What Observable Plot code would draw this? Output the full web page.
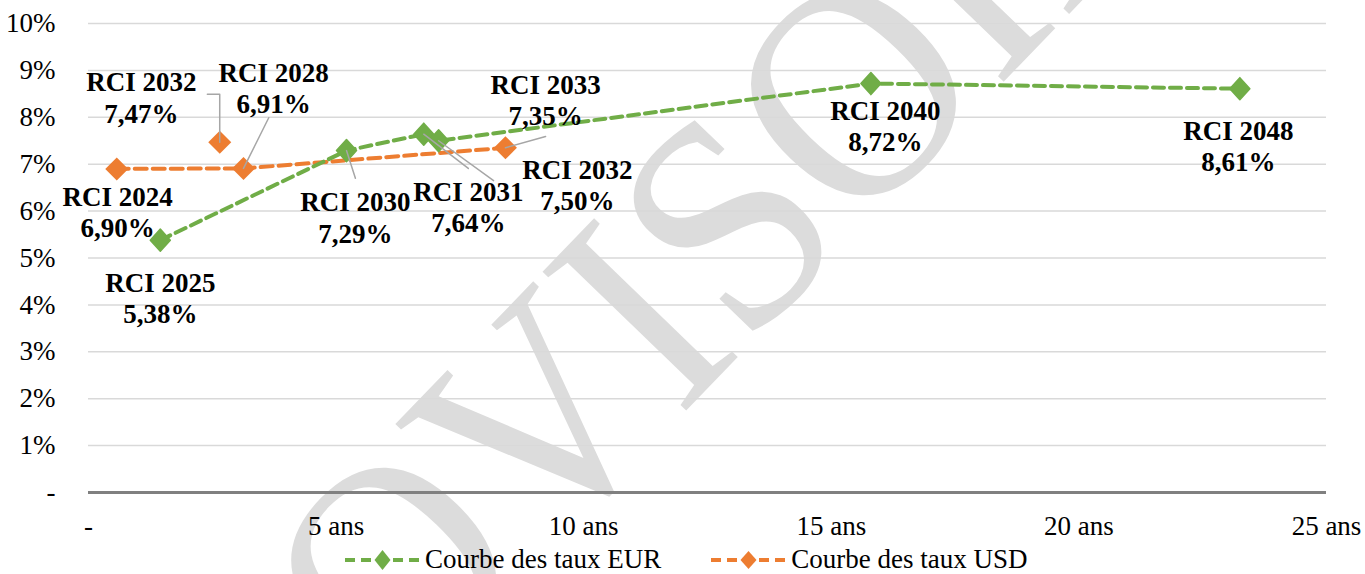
<!DOCTYPE html>
<html>
<head>
<meta charset="utf-8">
<script src="https://cdn.jsdelivr.net/npm/d3@7"></script>
<script src="https://cdn.jsdelivr.net/npm/@observablehq/plot@0.6"></script>
<style>
  html, body { margin: 0; padding: 0; background: #fff; }
  #wrap { position: relative; width: 1365px; height: 574px; overflow: hidden; }
  #watermark {
    position: absolute; left: 660px; top: 290px; z-index: 0;
    font-family: "Liberation Serif", "Times New Roman", serif;
    font-size: 305px; line-height: 1; color: #dcdcdc; white-space: nowrap;
    transform: translate(-50%, -50%) rotate(-46deg) scaleX(0.93);
  }
  #chart { position: relative; z-index: 1; }
  #chart svg { background: transparent !important; }
  #legend {
    position: relative; z-index: 1; height: 29px; display: flex; align-items: center;
    padding-left: 345px; gap: 50px;
    font-family: "Liberation Serif", "Times New Roman", serif; font-size: 27px; line-height: 29px; color: #000;
  }
  .item { display: flex; align-items: center; gap: 5px; }
</style>
</head>
<body>
<div id="wrap">
  <div id="watermark">PROVISOIRE</div>
  <div id="chart"></div>
  <div id="legend"></div>
</div>
<script>
// ---- Data ----
const eurBonds    = ["RCI 2025", "RCI 2030", "RCI 2031", "RCI 2032", "RCI 2040", "RCI 2048"];
const eurMaturity = [1.45, 5.21, 6.77, 7.07, 15.80, 23.25];   // years
const eurYield    = [5.38, 7.29, 7.64, 7.50, 8.72, 8.61];     // %

const usdBonds    = ["RCI 2024", "RCI 2028", "RCI 2033"];
const usdMaturity = [0.57, 3.13, 8.42];
const usdYield    = [6.90, 6.91, 7.35];

const usdExtraBonds    = ["RCI 2032"];
const usdExtraMaturity = [2.65];
const usdExtraYield    = [7.47];

const seriesNames = ["Courbe des taux EUR", "Courbe des taux USD"];
const xTicks = [0, 5, 10, 15, 20, 25];
const yTicks = [0, 1, 2, 3, 4, 5, 6, 7, 8, 9, 10];

// ---- Label layout (data coordinates of label block centre, and leader start) ----
const labelLayout = {
  "EUR RCI 2025": {lx: 1.45, ly: 4.16},
  "EUR RCI 2030": {lx: 5.39, ly: 5.88, ax: 5.39, ay: 6.70},
  "EUR RCI 2031": {lx: 7.67, ly: 6.10, ax: 7.67, ay: 6.91},
  "EUR RCI 2032": {lx: 9.87, ly: 6.57, ax: 8.18, ay: 6.65},
  "EUR RCI 2040": {lx: 16.09, ly: 7.83},
  "EUR RCI 2048": {lx: 23.22, ly: 7.40},
  "USD RCI 2024": {lx: 0.59, ly: 5.99},
  "USD RCI 2028": {lx: 3.74, ly: 8.64, ax: 3.64, ay: 7.99},
  "USD RCI 2033": {lx: 9.23, ly: 8.38, ax: 9.23, ay: 7.59},
  "USDX RCI 2032": {lx: 1.07, ly: 8.44, ax: 2.40, ay: 8.49, bx: 2.65, by: 8.49}
};

// ---- Build tables ----
const fmt = v => v.toFixed(2).replace(".", ",") + "%";
const eur = eurBonds.map((b, i) => ({bond: b, x: eurMaturity[i], y: eurYield[i], key: "EUR " + b}));
const usd = usdBonds.map((b, i) => ({bond: b, x: usdMaturity[i], y: usdYield[i], key: "USD " + b}));
const usdX = usdExtraBonds.map((b, i) => ({bond: b, x: usdExtraMaturity[i], y: usdExtraYield[i], key: "USDX " + b}));
const allPts = [...eur, ...usd, ...usdX].map(d => ({...d, ...labelLayout[d.key], text: d.bond + "\n" + fmt(d.y)}));

// leader polylines
const leaders = [];
allPts.forEach(d => {
  if (d.ax === undefined) return;
  const pts = [[d.ax, d.ay]];
  if (d.bx !== undefined) pts.push([d.bx, d.by]);
  pts.push([d.x, d.y]);
  pts.forEach(p => leaders.push({id: d.key, x: p[0], y: p[1]}));
});

const green = "#70AD47", orange = "#ED7D31";
function diamond(hx, hy) {
  return {
    draw(ctx, size) {
      const s = Math.sqrt(size / Math.PI);
      const a = s * hx, b = s * hy;
      ctx.moveTo(0, -b); ctx.lineTo(a, 0); ctx.lineTo(0, b); ctx.lineTo(-a, 0); ctx.closePath();
    }
  };
}
const fontFam = "'Liberation Serif', 'Times New Roman', serif";

const chart = Plot.plot({
  width: 1365,
  height: 545,
  marginLeft: 88,
  marginRight: 39,
  marginTop: 23,
  marginBottom: 53,
  style: {fontFamily: fontFam, fontSize: "27px", color: "#000", background: "transparent", overflow: "visible"},
  x: {domain: [0, 25], ticks: xTicks, tickSize: 0, tickPadding: 23,
      tickFormat: d => d === 0 ? "-" : d + " ans", label: null},
  y: {domain: [0, 10], ticks: yTicks, tickSize: 0, tickPadding: 33,
      tickFormat: d => d === 0 ? "-" : d + "%", label: null},
  marks: [
    Plot.ruleY(yTicks.filter(d => d > 0), {stroke: "#d9d9d9", strokeWidth: 1.5}),
    Plot.ruleY([0], {stroke: "#808080", strokeWidth: 3}),
    Plot.line(usd, {x: "x", y: "y", stroke: orange, strokeWidth: 4, strokeDasharray: "12,6"}),
    Plot.line(eur, {x: "x", y: "y", stroke: green, strokeWidth: 4, strokeDasharray: "11,6"}),
    Plot.dot([...usd, ...usdX], {x: "x", y: "y", r: 9.2, symbol: diamond(1.25, 1.25), fill: orange, stroke: "none"}),
    Plot.dot(eur, {x: "x", y: "y", r: 8.5, symbol: diamond(1.18, 1.3), fill: green, stroke: green, strokeWidth: 1.5, strokeLinejoin: "round"}),
    Plot.line(leaders, {x: "x", y: "y", z: "id", stroke: "#a6a6a6", strokeWidth: 1.5}),
    Plot.text(allPts, {x: "lx", y: "ly", text: "text", fontWeight: "bold", fontSize: 27,
      lineHeight: 1.17, textAnchor: "middle", fill: "#000"})
  ]
});
document.getElementById("chart").appendChild(chart);

// ---- Legend ----
const legend = document.getElementById("legend");
[[seriesNames[0], green, [1.0, 1.1]], [seriesNames[1], orange, [1.0, 1.0]]].forEach(([name, col, k]) => {
  const item = document.createElement("div");
  item.className = "item";
  item.innerHTML =
    `<svg width="75" height="22" style="display:block">
       <line x1="0" x2="75" y1="11" y2="11" stroke="${col}" stroke-width="4" stroke-dasharray="10,6"/>
       <path d="M37.5,${11 - 9 * k[1]} L${37.5 + 8 * k[0]},11 L37.5,${11 + 9 * k[1]} L${37.5 - 8 * k[0]},11 Z" fill="${col}"/>
     </svg><span>${name}</span>`;
  legend.appendChild(item);
});
</script>
</body>
</html>
